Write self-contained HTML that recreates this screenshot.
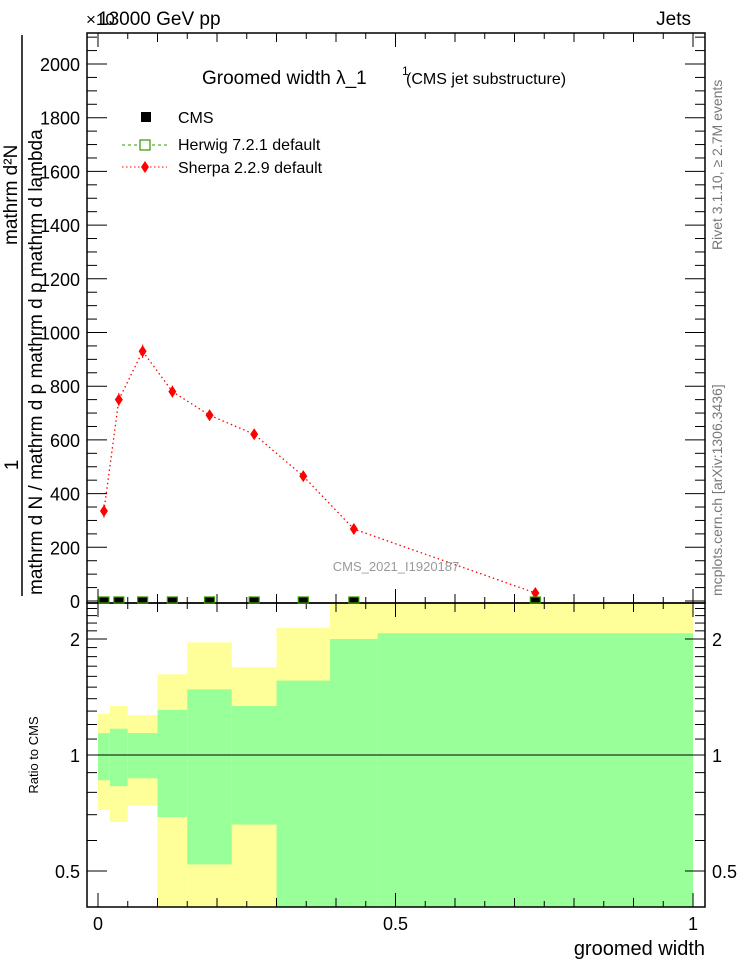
<!DOCTYPE html>
<html><head><meta charset="utf-8"><style>
body{margin:0;background:#fff}
svg{display:block;font-family:"Liberation Sans",sans-serif}
</style></head><body>
<svg id="c" width="746" height="972" viewBox="0 0 746 972"></svg>
<script>
const binEdges=[0,0.02,0.05,0.1,0.15,0.225,0.3,0.39,0.47,1];
const sherpaVals=[335,750,930,780,692,621,465,268,30];
const sherpaErr=[25,25,25,22,18,12,10,10,8];
const cmsVals=[0,0,0,0,0,0,0,0,0];
const herwigVals=[0,0,0,0,0,0,0,0,0];
const yTicks=[0,200,400,600,800,1000,1200,1400,1600,1800,2000];
const yellowHi=[1.28,1.34,1.27,1.62,1.96,1.69,2.14,3,3];
const yellowLo=[0.72,0.67,0.74,0.3,0.3,0.3,0.435,0.3,0.3];
const greenHi=[1.14,1.17,1.14,1.31,1.48,1.34,1.56,2.0,2.07];
const greenLo=[0.86,0.83,0.87,0.69,0.52,0.66,0.3,0.3,0.3];
const rTicks=[0.5,1,2];
const xTicks=[0,0.5,1];

const S='http://www.w3.org/2000/svg';
const svg=document.getElementById('c');
function el(t,a,p){const e=document.createElementNS(S,t);for(const k in a)e.setAttribute(k,a[k]);(p||svg).appendChild(e);return e;}
const L=87,R=705,T=33,M=603,B=907;
const X=v=>98+v*595;
const Y=v=>601-v*0.2685;
const RY=r=>755-116*Math.log2(r);
const clampR=y=>Math.max(M,Math.min(B,y));

// ratio bands
const bands=el('g',{});

for(let i=0;i<binEdges.length-1;i++){
  const x0=X(binEdges[i]),x1=X(binEdges[i+1]);
  let y0=clampR(RY(yellowHi[i])),y1=clampR(RY(yellowLo[i]));
  let r=el('rect',{x:x0,y:y0,width:x1-x0,height:y1-y0,fill:'#ffff99'},bands);
  
  y0=clampR(RY(greenHi[i]));y1=clampR(RY(greenLo[i]));
  r=el('rect',{x:x0,y:y0,width:x1-x0,height:y1-y0,fill:'#99ff99'},bands);
  
}
el('line',{x1:L,x2:R,y1:RY(1),y2:RY(1),stroke:'#000','stroke-width':1});

// frames
for(const [y0,y1] of [[T,M],[M,B]]){
  const f=el('rect',{x:L,y:y0,width:R-L,height:y1-y0,fill:'none',stroke:'#000','stroke-width':1.5});
  
}
// x ticks
for(let v=0;v<=1.0001;v+=0.05){
  const big=Math.abs(v*10-Math.round(v*10))<1e-6 && Math.round(v*10)%5==0;
  const len=Math.abs(v*10-Math.round(v*10))<1e-6?(big?14:9):6;
  for(const [y,d] of [[M,-1],[T,1],[B,-1],[M,1]]){
    el('line',{x1:X(v),x2:X(v),y1:y,y2:y+d*len,stroke:'#000','stroke-width':1});
  }
}
xTicks.forEach(v=>{const t=el('text',{x:X(v),y:930,'font-size':18,'text-anchor':'middle'});t.textContent=v;
});
// y ticks top
for(let v=0;v<=2100;v+=50){
  const y=Y(v);if(y<T)continue;
  const len=v%200==0?20:10;
  el('line',{x1:L,x2:L+len,y1:y,y2:y,stroke:'#000'});
  el('line',{x1:R,x2:R-len,y1:y,y2:y,stroke:'#000'});
}
yTicks.forEach(v=>{const t=el('text',{x:80,y:Y(v)+7,'font-size':18,'text-anchor':'end'});t.textContent=v;
});
// ratio ticks
for(let r=0.4;r<=2.5;r+=0.1){
  const y=RY(r);if(y<M||y>B)continue;
  const len=(Math.abs(r-0.5)<1e-6||Math.abs(r-1)<1e-6||Math.abs(r-2)<1e-6)?20:10;
  el('line',{x1:L,x2:L+len,y1:y,y2:y,stroke:'#000'});
  el('line',{x1:R,x2:R-len,y1:y,y2:y,stroke:'#000'});
}
rTicks.forEach(r=>{for(const [x,a] of [[80,'end'],[712,'start']]){const t=el('text',{x:x,y:RY(r)+7,'font-size':18,'text-anchor':a});t.textContent=r;
}});

// sherpa
const centers=binEdges.slice(0,-1).map((e,i)=>(e+binEdges[i+1])/2);
const pl=el('polyline',{points:centers.map((c,i)=>X(c)+','+Y(sherpaVals[i])).join(' '),fill:'none',stroke:'#f00','stroke-width':1.3,'stroke-dasharray':'1.5 3'});

centers.forEach((c,i)=>{
  const x=X(c),y=Y(sherpaVals[i]),e=sherpaErr[i]*0.2685;
  el('line',{x1:x,x2:x,y1:y-e,y2:y+e,stroke:'#f00','stroke-width':1});
  const d=el('path',{d:`M${x} ${y-6}L${x+4} ${y}L${x} ${y+6}L${x-4} ${y}Z`,fill:'#f00'});
  
  const xa=X(binEdges[i])+(X(binEdges[i+1])-X(binEdges[i]))/2;
  const s=el('rect',{x:X(c)-5,y:Y(herwigVals[i])-4,width:10,height:6,fill:'#000',stroke:'#390','stroke-width':1.2});
  
});

function txt(s,a,name){const t=el('text',a);t.textContent=s;return t;}
txt('13000 GeV pp',{x:98,y:25,'font-size':19},'beam-label');
txt('×10',{x:86,y:25,'font-size':17},'y-multiplier');
txt('Jets',{x:691,y:25,'font-size':19,'text-anchor':'end'},'process-label');
const tt=txt('Groomed width  λ_1',{x:202,y:84,'font-size':19},'plot-title');
txt('1',{x:402,y:75,'font-size':12},'title-sup');
txt('(CMS jet substructure)',{x:406,y:84,'font-size':16},'title-sub');
// legend
el('rect',{x:141,y:112,width:10,height:10,fill:'#000'});
txt('CMS',{x:178,y:123,'font-size':16},'legend-cms');
el('line',{x1:122,x2:167,y1:145,y2:145,stroke:'#390','stroke-dasharray':'3 3'});
el('rect',{x:140,y:140,width:10,height:10,fill:'#fff',stroke:'#390','stroke-width':1.2});
txt('Herwig 7.2.1 default',{x:178,y:150,'font-size':16},'legend-herwig');
el('line',{x1:122,x2:167,y1:167,y2:167,stroke:'#f00','stroke-dasharray':'1.5 2.5'});
el('path',{d:'M145 161L149 167L145 173L141 167Z',fill:'#f00'});
txt('Sherpa 2.2.9 default',{x:178,y:173,'font-size':16},'legend-sherpa');
txt('CMS_2021_I1920187',{x:396,y:571,'font-size':13,fill:'#999','text-anchor':'middle'},'analysis-id');
// axis titles
txt('groomed width',{x:705,y:955,'font-size':20,'text-anchor':'end'},'x-axis-title');
txt('Ratio to CMS',{x:0,y:0,'font-size':13,transform:'translate(38,755) rotate(-90)','text-anchor':'middle'},'ratio-axis-title');
txt('1',{x:0,y:0,'font-size':19,transform:'translate(18,465) rotate(-90)','text-anchor':'middle'},'y-axis-title-num');
el('line',{x1:22,x2:22,y1:35,y2:596,stroke:'#000','stroke-width':1.5});
txt('mathrm d N / mathrm d p   mathrm d p   mathrm d lambda',{x:0,y:0,'font-size':19,transform:'translate(42,595) rotate(-90)'},'y-axis-title');
txt('mathrm d²N',{x:0,y:0,'font-size':19,transform:'translate(17,245) rotate(-90)'},'y-axis-title-top');
txt('Rivet 3.1.10, ≥ 2.7M events',{x:0,y:0,'font-size':14,fill:'#777',transform:'translate(722,250) rotate(-90)'},'rivet-label');
txt('mcplots.cern.ch [arXiv:1306.3436]',{x:0,y:0,'font-size':14,fill:'#777',transform:'translate(722,596) rotate(-90)'},'mcplots-label');
</script>
</body></html>
